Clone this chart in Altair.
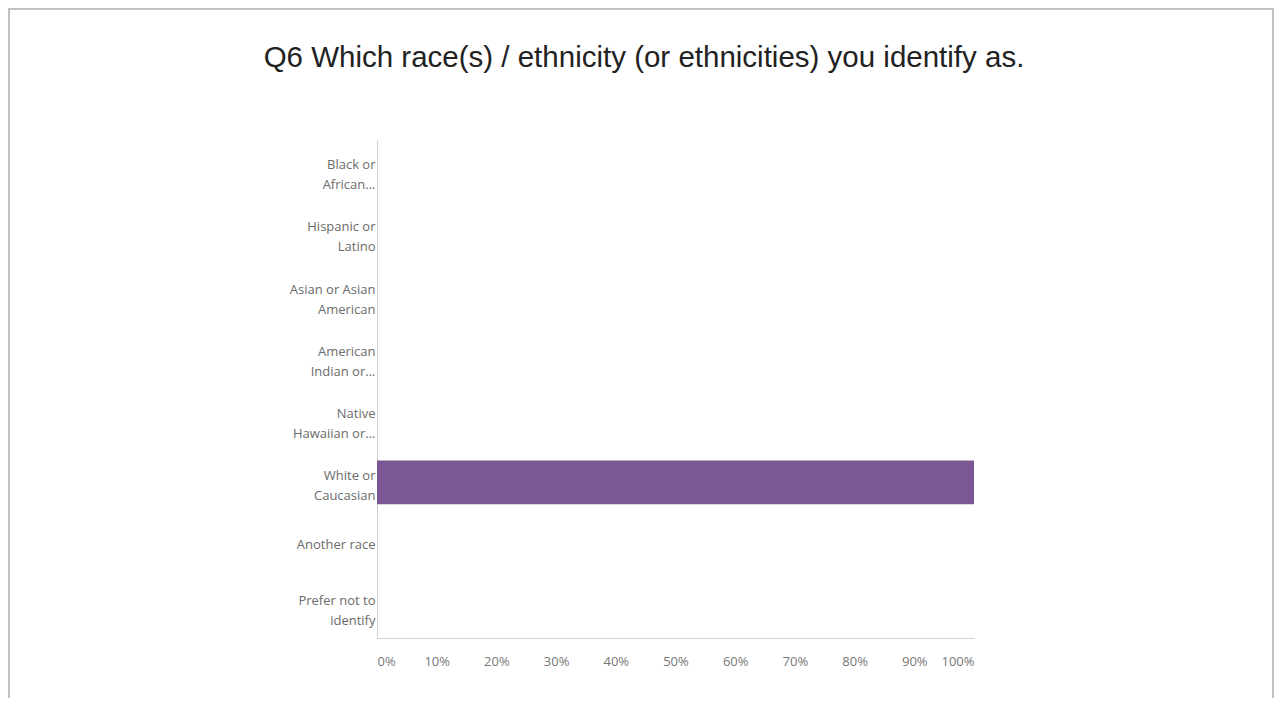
import altair as alt
import pandas as pd

# Data
categories = [
    "Black or|African...",
    "Hispanic or|Latino",
    "Asian or Asian|American",
    "American|Indian or...",
    "Native|Hawaiian or...",
    "White or|Caucasian",
    "Another race",
    "Prefer not to|identify",
]
shares = [0.0, 0.0, 0.0, 0.0, 0.0, 1.0, 0.0, 0.0]
tick_values = [0.0, 0.1, 0.2, 0.3, 0.4, 0.5, 0.6, 0.7, 0.8, 0.9, 1.0]
title_text = "Q6 Which race(s) / ethnicity (or ethnicities) you identify as."

df = pd.DataFrame({"category": categories, "share": shares})

bars = alt.Chart(df).mark_bar(color="#7b5794").encode(
    y=alt.Y(
        "category:N",
        sort=categories,
        scale=alt.Scale(paddingInner=0.3, paddingOuter=0.15),
        axis=alt.Axis(
            title=None,
            ticks=False,
            domain=True,
            domainColor="#d0d0d0",
            labelExpr="split(datum.label, '|')",
            labelFont="Open Sans",
            labelFontSize=13,
            labelColor="#6b6b6b",
            labelLineHeight=20,
            labelPadding=2,
            labelLimit=200,
            labelOffset={
                "condition": {"test": "indexof(datum.value, '|') >= 0", "value": -6},
                "value": 0,
            },
        ),
    ),
    x=alt.X(
        "share:Q",
        scale=alt.Scale(domain=[0, 1], nice=False),
        axis=alt.Axis(
            title=None,
            values=tick_values,
            format=".0%",
            grid=False,
            ticks=False,
            domainColor="#d0d0d0",
            labelFont="Open Sans",
            labelFontSize=13,
            labelColor="#777777",
            labelPadding=17,
            labelFlush=True,
        ),
    ),
)

frame = alt.Chart(pd.DataFrame({"f": [0]})).mark_rect(
    filled=False, stroke="#c0c0c0", strokeWidth=2
).encode(
    x=alt.value(-368),
    x2=alt.value(896),
    y=alt.value(-131),
    y2=alt.value(640),
)

title = alt.Chart(pd.DataFrame({"t": [title_text]})).mark_text(
    font="Liberation Sans",
    fontSize=29.5,
    color="#222222",
    align="center",
    baseline="alphabetic",
).encode(
    text="t:N",
    x=alt.value(267),
    y=alt.value(-73),
)

chart = alt.layer(frame, title, bars).properties(
    width=597,
    height=498,
    autosize=alt.AutoSizeParams(type="none"),
    padding={"left": 369, "top": 132, "right": 300, "bottom": 60},
    background="white",
).configure_view(strokeWidth=0, stroke="transparent")

chart.save("out.html", embed_options={"renderer": "svg", "actions": False})
